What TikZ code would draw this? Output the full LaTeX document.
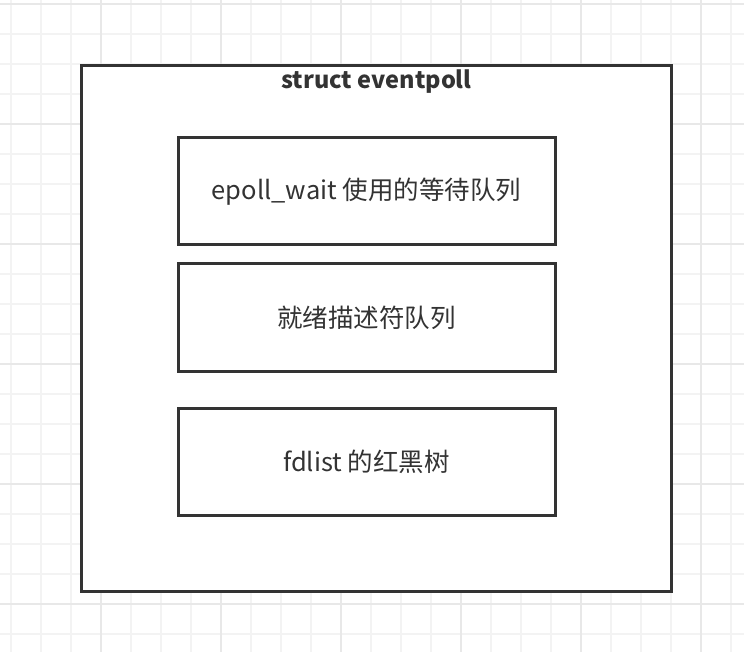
\documentclass[tikz,border=0pt]{standalone}
\usepackage{fontspec}
\setmainfont{Noto Sans CJK SC}
\definecolor{gridminor}{HTML}{F3F3F3}
\definecolor{gridmajor}{HTML}{E8E8E8}
\definecolor{ink}{HTML}{333333}
\begin{document}
\begin{tikzpicture}[x=1pt,y=-1pt,
  boxstyle/.style={draw=ink,line width=3pt,fill=white},
  labelstyle/.style={text=ink,font=\fontsize{25.5}{30}\selectfont,inner sep=0pt},
  titlestyle/.style={text=ink,font=\fontsize{23.5}{28}\selectfont\bfseries,inner sep=0pt}]
\useasboundingbox (0,0) rectangle (744,652);
\fill[white] (0,0) rectangle (744,652);
% grid
\foreach \i in {0,...,24} {
  \draw[gridminor,line width=1.5pt] ({11+30*\i},0) -- ({11+30*\i},652);
}
\foreach \j in {0,...,21} {
  \draw[gridminor,line width=1.5pt] (0,{4+30*\j}) -- (744,{4+30*\j});
}
\foreach \i in {0,...,5} {
  \draw[gridmajor,line width=1.5pt] ({101+120*\i},0) -- ({101+120*\i},652);
}
\foreach \j in {0,...,5} {
  \draw[gridmajor,line width=1.5pt] (0,{4+120*\j}) -- (744,{4+120*\j});
}
% outer box
\draw[boxstyle] (81.5,66) rectangle (671.5,591.5);
\node[titlestyle] (title) at (376.5,82) {struct eventpoll};
% inner boxes
\draw[boxstyle] (178,138) rectangle (555.5,244.5);
\draw[boxstyle] (178,264) rectangle (555.5,371);
\draw[boxstyle] (178,408) rectangle (555.5,515);
\node[labelstyle] (wq) at (366.5,192) {epoll\_wait 使用的等待队列};
\node[labelstyle] (rdl) at (366.5,318) {就绪描述符队列};
\node[labelstyle] (rbt) at (366.5,462) {fdlist 的红黑树};
\end{tikzpicture}
\end{document}
